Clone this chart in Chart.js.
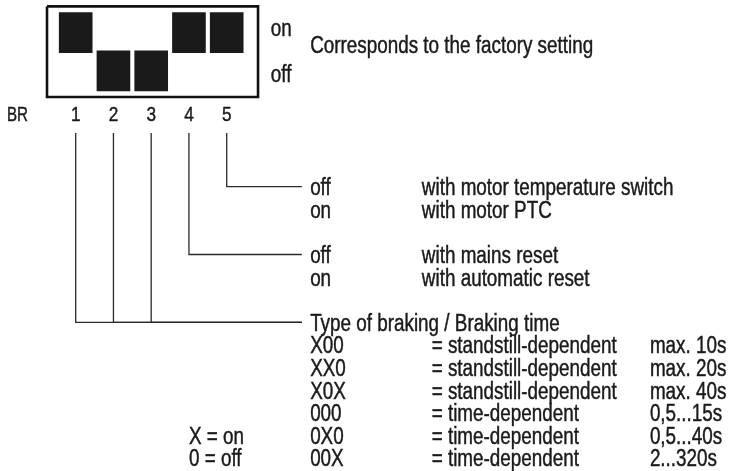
<!DOCTYPE html>
<html>
<head>
<meta charset="utf-8">
<script src="https://cdn.jsdelivr.net/npm/chart.js@4.4.1/dist/chart.umd.min.js"></script>
<style>
  html, body { margin: 0; padding: 0; background: #fff; }
  #wrap { width: 730px; height: 471px; position: relative; }
</style>
</head>
<body>
<div id="wrap"><canvas id="dipChart"></canvas></div>
<script>
// DIP switch "BR" - factory setting and meaning of each switch
const switchNumbers = [1, 2, 3, 4, 5];
const switchStates = [1, 0, 0, 1, 1];          // 1 = on, 0 = off
const switchTargetRows = [6, 6, 6, 3, 0];      // text row each switch leads to
const stateLabels = ["on", "off"];
const stateValues = [1, 0];
const factoryNote = "Corresponds to the factory setting";
const switchGroupLabel = "BR";

const optionRows = [0, 1, 3, 4];
const optionStates = ["off", "on", "off", "on"];
const optionTexts = ["with motor temperature switch", "with motor PTC", "with mains reset", "with automatic reset"];

const brakingTitle = "Type of braking / Braking time";
const brakingTitleRow = 6;
const brakingRows = [7, 8, 9, 10, 11, 12];
const brakingCodes = ["X00", "XX0", "X0X", "000", "0X0", "00X"];
const brakingTypes = ["= standstill-dependent", "= standstill-dependent", "= standstill-dependent",
                      "= time-dependent", "= time-dependent", "= time-dependent"];
const brakingTimes = ["max. 10s", "max. 20s", "max. 40s", "0,5...15s", "0,5...40s", "2...320s"];
const keyRows = [11, 12];
const keyLabels = ["X = on", "0 = off"];

// layout (x in switch units, rows in line units)
const COL_STATE = 6.17, COL_OPTION = 7.21, COL_DESC = 10.17, COL_TYPE = 10.43, COL_TIME = 16.21;
const COL_KEY = 4.0, COL_BR = -0.82, LINE_END = 6.99, LINE_TOP = -2.38, NUMBER_STATE = -1.31;
const INK = "#1a1a1a";

let datasets = [];

datasets.push({
    type: "bar",
    data: switchNumbers.map((n, i) => ({ x: n, y: [switchStates[i] - 0.525, switchStates[i] + 0.525] })),
    backgroundColor: INK,
    borderWidth: 0,
    barThickness: 33,
    yAxisID: "yState",
    order: 1
});

let boxL = switchNumbers[0] - 0.76, boxR = switchNumbers[switchNumbers.length - 1] + 0.83;
let boxT = 1.69, boxB = -0.688;
datasets.push({
    type: "line",
    data: [{ x: boxL, y: boxT }, { x: boxR, y: boxT }, { x: boxR, y: boxB }, { x: boxL, y: boxB }, { x: boxL, y: boxT }],
    borderColor: "#111",
    borderWidth: 2.6,
    borderJoinStyle: "miter",
    pointRadius: 0,
    fill: false,
    tension: 0,
    yAxisID: "yState",
    order: 2
});

switchNumbers.forEach((n, i) => {
    let row = switchTargetRows[i];
    datasets.push({
        type: "line",
        data: [{ x: n, y: LINE_TOP }, { x: n, y: row }, { x: LINE_END, y: row }],
        borderColor: "#2a2a2a",
        borderWidth: 1.3,
        pointRadius: 0,
        fill: false,
        tension: 0,
        yAxisID: "yRow",
        order: 3
    });
});

function drawText(ctx, text, x, y, size, align, squeeze) {
    ctx.save();
    ctx.translate(x, y);
    ctx.scale(squeeze || 0.82, 1);
    ctx.font = size + "px 'Liberation Sans', Arial, sans-serif";
    ctx.textAlign = align || "left";
    ctx.textBaseline = "alphabetic";
    ctx.fillStyle = INK;
    ctx.strokeStyle = INK;
    ctx.lineWidth = 0.45;
    ctx.fillText(text, 0, 0);
    ctx.strokeText(text, 0, 0);
    ctx.restore();
}

const labelPlugin = {
    id: "labels",
    afterDatasetsDraw(chart) {
        let ctx = chart.ctx;
        let sx = chart.scales.x, sState = chart.scales.yState, sRow = chart.scales.yRow;
        let rowBase = r => sRow.getPixelForValue(r) + 8.5;

        // on / off beside the switch box
        let stateOffsets = [3.5, 11];
        stateLabels.forEach((t, i) => {
            drawText(ctx, t, sx.getPixelForValue(COL_STATE), sState.getPixelForValue(stateValues[i]) + stateOffsets[i], 23);
        });
        drawText(ctx, factoryNote, sx.getPixelForValue(COL_OPTION), sState.getPixelForValue(0.5) + 1.5, 23);

        // switch numbers
        let numY = sState.getPixelForValue(NUMBER_STATE);
        drawText(ctx, switchGroupLabel, sx.getPixelForValue(COL_BR), numY, 21, "left", 0.72);
        switchNumbers.forEach(n => {
            drawText(ctx, String(n), sx.getPixelForValue(n), numY, 21, "center");
        });

        // switch 4 / 5 options
        optionRows.forEach((r, i) => {
            drawText(ctx, optionStates[i], sx.getPixelForValue(COL_OPTION), rowBase(r), 23);
            drawText(ctx, optionTexts[i], sx.getPixelForValue(COL_DESC), rowBase(r), 23);
        });

        // braking table
        drawText(ctx, brakingTitle, sx.getPixelForValue(COL_OPTION), rowBase(brakingTitleRow), 23);
        brakingRows.forEach((r, i) => {
            drawText(ctx, brakingCodes[i], sx.getPixelForValue(COL_OPTION), rowBase(r), 23);
            drawText(ctx, brakingTypes[i], sx.getPixelForValue(COL_TYPE), rowBase(r), 23);
            drawText(ctx, brakingTimes[i], sx.getPixelForValue(COL_TIME), rowBase(r), 23);
        });
        keyRows.forEach((r, i) => {
            drawText(ctx, keyLabels[i], sx.getPixelForValue(COL_KEY), rowBase(r), 23);
        });
    }
};

new Chart(document.getElementById("dipChart"), {
    type: "bar",
    data: { datasets: datasets },
    options: {
        responsive: true,
        maintainAspectRatio: false,
        animation: false,
        events: [],
        layout: { padding: 0 },
        plugins: { legend: { display: false }, tooltip: { enabled: false } },
        scales: {
            x: { type: "linear", display: false, offset: false, min: -1.0053, max: 18.3324 },
            yState: { type: "linear", display: false, position: "left", min: -10.5039, max: 1.8583 },
            yRow: { type: "linear", display: false, position: "right", reverse: true, min: -8.2611, max: 12.5796 }
        }
    },
    plugins: [labelPlugin]
});
</script>
</body>
</html>
